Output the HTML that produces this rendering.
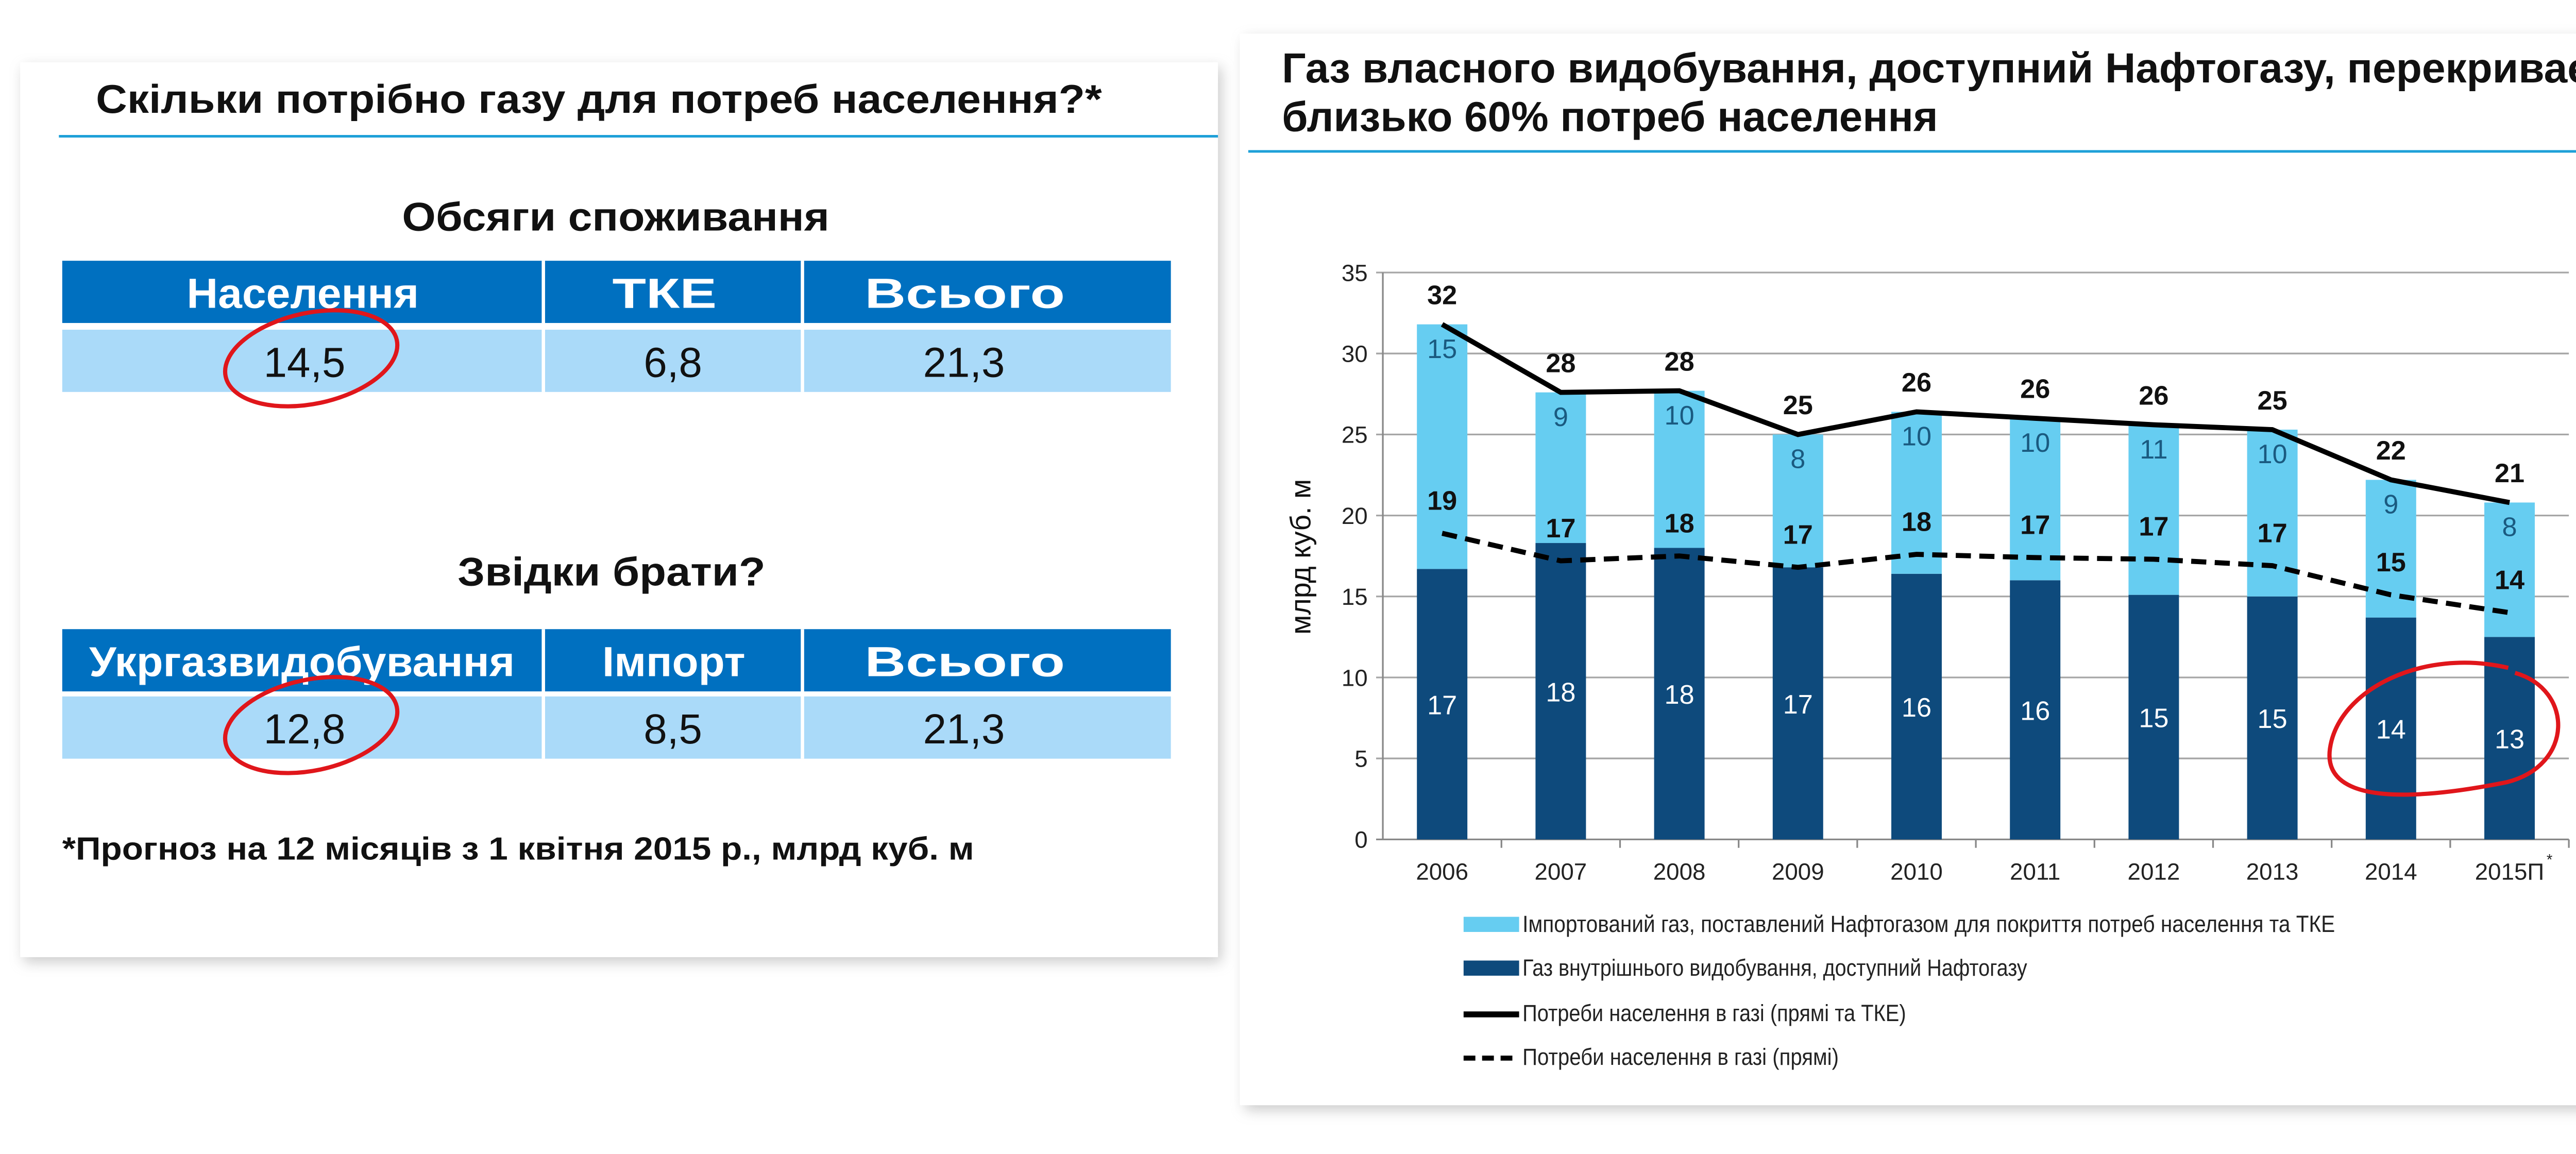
<!DOCTYPE html>
<html><head><meta charset="utf-8"><style>
html,body{margin:0;padding:0;background:#fff;}
svg{display:block;font-family:"Liberation Sans","Noto Sans CJK SC",sans-serif;}
</style></head><body>
<svg id="root" width="5120" height="2240" viewBox="0 0 1568 686" xmlns="http://www.w3.org/2000/svg">
<defs><filter id="sh" x="-5%" y="-5%" width="110%" height="110%"><feGaussianBlur stdDeviation="4"/></filter></defs>
<g>
<rect x="14" y="40" width="712" height="532" fill="#999" opacity="0.5" filter="url(#sh)"/>
<rect x="12" y="37" width="712" height="532" fill="#fff"/>
<text x="57" y="67" font-size="24" font-weight="bold" fill="#111" textLength="598" lengthAdjust="spacingAndGlyphs">Скільки потрібно газу для потреб населення?*</text>
<line x1="35" y1="81" x2="724" y2="81" stroke="#1ea0d8" stroke-width="1.5"/>
<text x="239" y="137" font-size="24" font-weight="bold" fill="#111" textLength="254" lengthAdjust="spacingAndGlyphs">Обсяги споживання</text>
<g>
<rect x="37" y="155" width="659" height="37" fill="#0070c0"/>
<rect x="37" y="196" width="659" height="37" fill="#aadaf9"/>
<line x1="323" y1="155" x2="323" y2="233" stroke="#fff" stroke-width="2"/>
<line x1="477" y1="155" x2="477" y2="233" stroke="#fff" stroke-width="2"/>
<g font-size="25" font-weight="bold" fill="#fff" lengthAdjust="spacingAndGlyphs">
<text x="111" y="183" textLength="138" lengthAdjust="spacingAndGlyphs">Населення</text><text x="364" y="183" textLength="62" lengthAdjust="spacingAndGlyphs">ТКЕ</text><text x="514" y="183" textLength="119" lengthAdjust="spacingAndGlyphs">Всього</text></g>
<g font-size="25" fill="#111" text-anchor="middle">
<text x="181" y="224">14,5</text><text x="400" y="224">6,8</text><text x="573" y="224">21,3</text></g>
</g>
<text x="272" y="348" font-size="24" font-weight="bold" fill="#111" textLength="183" lengthAdjust="spacingAndGlyphs">Звідки брати?</text>
<g>
<rect x="37" y="374" width="659" height="37" fill="#0070c0"/>
<rect x="37" y="414" width="659" height="37" fill="#aadaf9"/>
<line x1="323" y1="374" x2="323" y2="451" stroke="#fff" stroke-width="2"/>
<line x1="477" y1="374" x2="477" y2="451" stroke="#fff" stroke-width="2"/>
<g font-size="25" font-weight="bold" fill="#fff">
<text x="53" y="402" textLength="253" lengthAdjust="spacingAndGlyphs">Укргазвидобування</text><text x="358" y="402" textLength="85" lengthAdjust="spacingAndGlyphs">Імпорт</text><text x="514" y="402" textLength="119" lengthAdjust="spacingAndGlyphs">Всього</text></g>
<g font-size="25" fill="#111" text-anchor="middle">
<text x="181" y="442">12,8</text><text x="400" y="442">8,5</text><text x="573" y="442">21,3</text></g>
</g>
<text x="37" y="511" font-size="19" font-weight="bold" fill="#111" textLength="542" lengthAdjust="spacingAndGlyphs">*Прогноз на 12 місяців з 1 квітня 2015 р., млрд куб. м</text>
<ellipse cx="185" cy="213" rx="52" ry="27" transform="rotate(-12 185 213)" fill="none" stroke="#e0161b" stroke-width="2.5"/>
<ellipse cx="185" cy="431" rx="52" ry="27" transform="rotate(-12 185 431)" fill="none" stroke="#e0161b" stroke-width="2.5"/>
</g>
<g>
<rect x="740" y="23" width="813" height="637" fill="#999" opacity="0.5" filter="url(#sh)"/>
<rect x="737" y="20" width="813" height="637" fill="#fff"/>
<text x="762" y="49" font-size="25" font-weight="bold" fill="#111" textLength="778" lengthAdjust="spacingAndGlyphs">Газ власного видобування, доступний Нафтогазу, перекриває</text>
<text x="762" y="78" font-size="25" font-weight="bold" fill="#111" textLength="390" lengthAdjust="spacingAndGlyphs">близько 60% потреб населення</text>
<line x1="742" y1="90" x2="1550" y2="90" stroke="#1ea0d8" stroke-width="1.5"/>
<g id="chart"></g>
<text transform="translate(779 331) rotate(-90)" font-size="17" text-anchor="middle" fill="#111">млрд куб. м</text>
<g font-size="14" fill="#222">
<g><rect x="870" y="545" width="33" height="9" fill="#66cdf1"/><text x="905" y="554" textLength="483" lengthAdjust="spacingAndGlyphs">Імпортований газ, поставлений Нафтогазом для покриття потреб населення та ТКЕ</text></g>
<g><rect x="870" y="571" width="33" height="9" fill="#0e4a7c"/><text x="905" y="580" textLength="300" lengthAdjust="spacingAndGlyphs">Газ внутрішнього видобування, доступний Нафтогазу</text></g>
<g><line x1="870" y1="603" x2="903" y2="603" stroke="#000" stroke-width="3.5"/><text x="905" y="607" textLength="228" lengthAdjust="spacingAndGlyphs">Потреби населення в газі (прямі та ТКЕ)</text></g>
<g><line x1="870" y1="629" x2="903" y2="629" stroke="#000" stroke-width="3" stroke-dasharray="7 4"/><text x="905" y="633" textLength="188" lengthAdjust="spacingAndGlyphs">Потреби населення в газі (прямі)</text></g>
</g>
<path d="M1491 397 C1440 385 1390 410 1385 445 C1380 480 1440 475 1490 465 C1530 455 1530 410 1495 400" fill="none" stroke="#e0161b" stroke-width="2.5"/>
</g>
</svg>
<script>
const categories=["2006","2007","2008","2009","2010","2011","2012","2013","2014","2015П"];
const domestic=[16.7,18.3,18.0,16.8,16.4,16.0,15.1,15.0,13.7,12.5];
const imported=[15.1,9.3,9.7,8.2,10.0,10.0,10.5,10.3,8.5,8.3];
const domesticLabels=["17","18","18","17","16","16","15","15","14","13"];
const importedLabels=["15","9","10","8","10","10","11","10","9","8"];
const totalNeeds=[31.8,27.6,27.7,25.0,26.4,26.0,25.6,25.3,22.2,20.8];
const totalLabels=["32","28","28","25","26","26","26","25","22","21"];
const directNeeds=[18.9,17.2,17.5,16.8,17.6,17.4,17.3,16.9,15.1,14.0];
const directLabels=["19","17","18","17","18","17","17","17","15","14"];
const yTicks=[0,5,10,15,20,25,30,35];

const NS="http://www.w3.org/2000/svg";
const g=document.getElementById('chart');
const X0=822,X1=1527,Y0=499,Y35=162;
const step=(X1-X0)/categories.length;
const x=i=>X0+step*(i+0.5);
const y=v=>Y0-(Y0-Y35)*v/35;
function mk(tag,attrs,parent){const e=document.createElementNS(NS,tag);for(const k in attrs)e.setAttribute(k,attrs[k]);(parent||g).appendChild(e);return e;}
yTicks.forEach(t=>{
  const l=mk('line',{x1:X0-4,x2:X1,y1:y(t),y2:y(t),stroke:t===0?'#888':'#a6a6a6','stroke-width':1});
  
  
  const tx=mk('text',{x:X0-9,y:y(t)+5,'font-size':14,'text-anchor':'end',fill:'#222'});tx.textContent=t;
  
  
});
mk('line',{x1:X0,x2:X0,y1:Y35,y2:Y0,stroke:'#888'});
const bw=30;
categories.forEach((c,i)=>{
  const cx=x(i);
  mk('line',{x1:X0+step*(i+1),x2:X0+step*(i+1),y1:Y0,y2:Y0+5,stroke:'#888'});
  const b1=mk('rect',{x:cx-bw/2,y:y(domestic[i]),width:bw,height:y(0)-y(domestic[i]),fill:'#0e4a7c'});
  
  
  const top=domestic[i]+imported[i];
  const b2=mk('rect',{x:cx-bw/2,y:y(top),width:bw,height:y(domestic[i])-y(top),fill:'#66cdf1'});
  
  
  const t1=mk('text',{x:cx,y:y(domestic[i]/2)+6,'font-size':16,'text-anchor':'middle',fill:'#fff'});t1.textContent=domesticLabels[i];
  
  
  const t2=mk('text',{x:cx,y:y(top)+20,'font-size':16,'text-anchor':'middle',fill:'#1a5a80'});t2.textContent=importedLabels[i];
  
  
  const xl=mk('text',{x:cx,y:Y0+24,'font-size':14,'text-anchor':'middle',fill:'#222'});xl.textContent=c;
  
  
  if(i===categories.length-1){const s=mk('text',{x:cx+22,y:Y0+15,'font-size':9,fill:'#222'});s.textContent='*';}
});
const solid=mk('polyline',{points:totalNeeds.map((v,i)=>x(i)+','+y(v)).join(' '),fill:'none',stroke:'#000','stroke-width':3});


const dash=mk('polyline',{points:directNeeds.map((v,i)=>x(i)+','+y(v)).join(' '),fill:'none',stroke:'#000','stroke-width':3,'stroke-dasharray':'9 5'});


categories.forEach((c,i)=>{
  const a=mk('text',{x:x(i),y:y(totalNeeds[i])-12,'font-size':16,'font-weight':'bold','text-anchor':'middle',fill:'#111'});a.textContent=totalLabels[i];
  
  
  const b=mk('text',{x:x(i),y:y(directNeeds[i])-14,'font-size':16,'font-weight':'bold','text-anchor':'middle',fill:'#111'});b.textContent=directLabels[i];
  
  
});
</script>
</body></html>
